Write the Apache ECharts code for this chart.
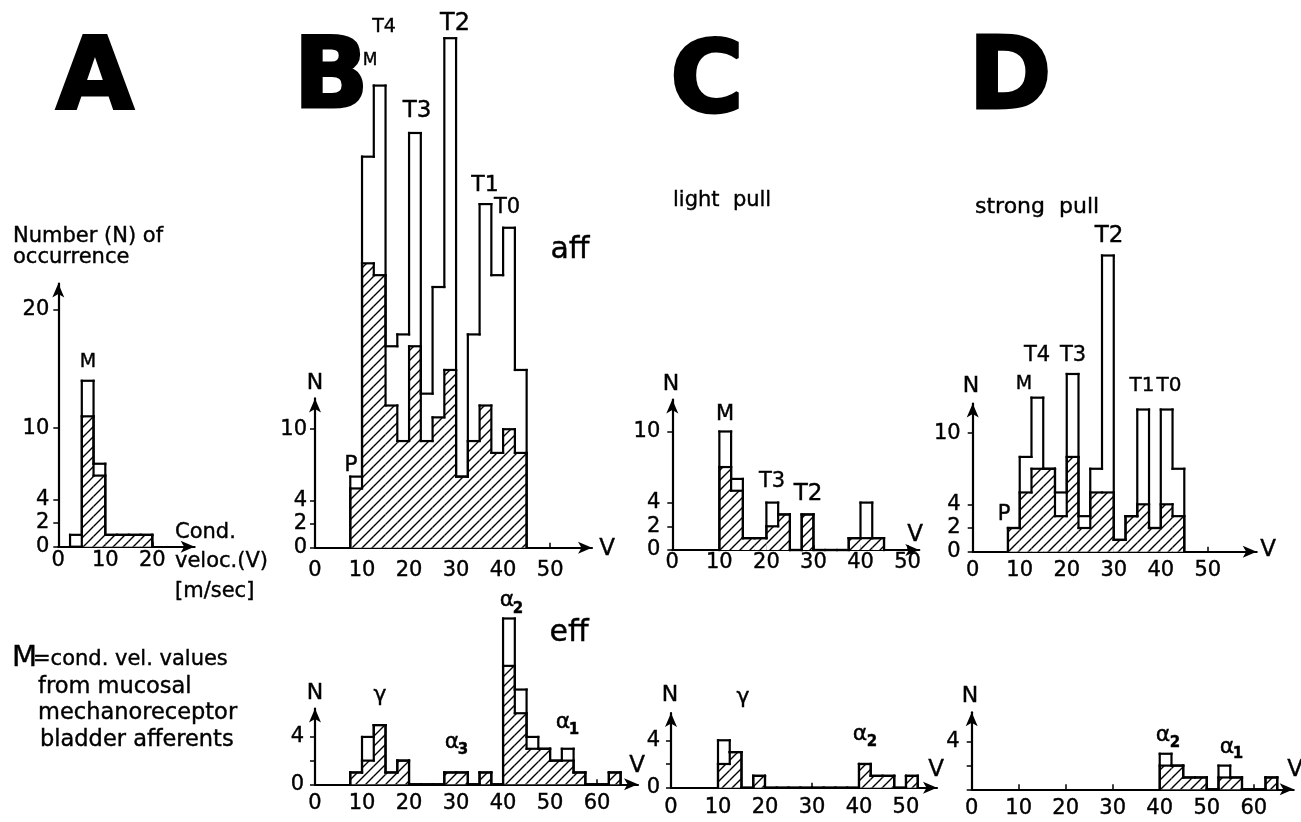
<!DOCTYPE html>
<html><head><meta charset="utf-8">
<script src="https://cdn.jsdelivr.net/npm/echarts@6/dist/echarts.min.js"></script>
<style>html,body{margin:0;padding:0;background:#fff}#c{width:1301px;height:822px}</style>
</head><body><div id="c"></div>
<script>
// ---------------- DATA (bin width 2.5 m/s, counts per bin) ----------------
const BIN = 2.5;
// Panel A (mucosal mechanoreceptor afferents)
const aStart = 2.5;
const aTotal   = [1, 14, 7, 1, 1, 1, 1];
const aHatched = [0, 11, 6, 1, 1, 1, 1];
// Panel B afferents
const bAffStart = 7.5;
const bAffTotal   = [6, 33, 39, 17, 18, 35, 13, 22, 43, 6, 18, 29, 23, 27, 15];
const bAffHatched = [5, 24, 23, 12, 9, 17, 9, 11, 15, 6, 9, 12, 8, 10, 8];
// Panel C afferents (light pull)
const cAffStart = 10;
const cAffTotal   = [10, 6, 1, 1, 4, 3, 0, 3, 0, 0, 0, 1, 4, 1];
const cAffHatched = [7, 5, 1, 1, 2, 3, 0, 3, 0, 0, 0, 1, 1, 1];
// Panel D afferents (strong pull)
const dAffStart = 7.5;
const dAffTotal   = [2, 8, 13, 7, 5, 15, 3, 7, 25, 1, 3, 12, 2, 12, 7];
const dAffHatched = [2, 5, 7, 7, 3, 8, 2, 5, 5, 1, 3, 4, 2, 4, 3];
// Panel B efferents
const bEffStart = 7.5;
const bEffTotal   = [1, 4, 5, 1, 2, 0, 0, 0, 1, 1, 0, 1, 0, 14, 8, 4, 3, 2, 3, 1, 0, 0, 1];
const bEffHatched = [1, 2, 5, 1, 2, 0, 0, 0, 1, 1, 0, 1, 0, 10, 6, 3, 3, 2, 2, 1, 0, 0, 1];
// Panel C efferents
const cEffStart = 10;
const cEffTotal   = [4, 3, 0, 1, 0, 0, 0, 0, 0, 0, 0, 0, 2, 1, 1, 0, 1];
const cEffHatched = [2, 3, 0, 1, 0, 0, 0, 0, 0, 0, 0, 0, 2, 1, 1, 0, 1];
// Panel D efferents
const dEffStart = 40;
const dEffTotal   = [3, 2, 1, 1, 0, 2, 1, 0, 0, 1];
const dEffHatched = [2, 2, 1, 1, 0, 1, 1, 0, 0, 1];

// Tick values / labels
const xTicks20 = [0, 10, 20];
const xTicks50 = [0, 10, 20, 30, 40, 50];
const xTicks60 = [0, 10, 20, 30, 40, 50, 60];
const yTicksA = [0, 2, 4, 10, 20];
const yTicksAff = [0, 2, 4, 10];
const yTicksEff = [0, 2, 4];
const yLabelsEff = [0, 4];
const yLabelsEffD = [4];

// ---------------- helpers ----------------
function binData(start, counts) {
  // [left edge, right edge, count, previous count, isLast]
  return counts.map((c, k) => [start + k * BIN, start + (k + 1) * BIN, c,
    k === 0 ? 0 : counts[k - 1], k === counts.length - 1 ? 1 : 0]);
}
function makeHatch() {
  const s = 10, cv = document.createElement('canvas');
  cv.width = s; cv.height = s;
  const g = cv.getContext('2d');
  g.strokeStyle = '#000'; g.lineWidth = 1.4;
  g.beginPath();
  g.moveTo(-2, s + 2); g.lineTo(s + 2, -2);
  g.moveTo(-2, 2); g.lineTo(2, -2);
  g.moveTo(s - 2, s + 2); g.lineTo(s + 2, s - 2);
  g.stroke();
  return cv;
}
const hatch = { image: makeHatch(), repeat: 'repeat' };
const FONT = '"DejaVu Sans"';

function histRender(fill) {
  return function (params, api) {
    const x0 = api.value(0), x1 = api.value(1), c = api.value(2), prev = api.value(3), last = api.value(4);
    const pBase0 = api.coord([x0, 0]);
    const pTop1 = api.coord([x1, c]);
    const pPrev = api.coord([x0, prev]);
    const lineStyle = { stroke: '#000', lineWidth: 2.2, fill: null, lineCap: 'square' };
    const children = [];
    if (c > 0) {
      children.push({ type: 'rect', z2: 1,
        shape: { x: pBase0[0], y: pTop1[1], width: pTop1[0] - pBase0[0], height: pBase0[1] - pTop1[1] },
        style: { fill: fill, stroke: null } });
    }
    children.push({ type: 'line', z2: 2, shape: { x1: pBase0[0], y1: pTop1[1], x2: pTop1[0], y2: pTop1[1] }, style: lineStyle });
    if (prev !== c) {
      children.push({ type: 'line', z2: 2, shape: { x1: pBase0[0], y1: pPrev[1], x2: pBase0[0], y2: pTop1[1] }, style: lineStyle });
    }
    if (last) {
      children.push({ type: 'line', z2: 2, shape: { x1: pTop1[0], y1: pTop1[1], x2: pTop1[0], y2: pBase0[1] }, style: lineStyle });
    }
    return { type: 'group', children: children };
  };
}

const panels = [
  { grid: { left: 58.3, top: 283.6, width: 136.3, height: 263.1 }, xMax: 29, yMax: 22.2,
    xTicks: xTicks20, yTicks: yTicksA, yLabels: yTicksA, xMargin: 3, yMargin: 9,
    start: aStart, total: aTotal, hatched: aHatched },
  { grid: { left: 315, top: 398.4, width: 277, height: 149.3 }, xMax: 58.9, yMax: 12.6,
    xTicks: xTicks50, yTicks: yTicksAff, yLabels: yTicksAff, xMargin: 12, yMargin: 8,
    start: bAffStart, total: bAffTotal, hatched: bAffHatched },
  { grid: { left: 672.3, top: 399.5, width: 247, height: 150.5 }, xMax: 52.5, yMax: 12.7,
    xTicks: xTicks50, yTicks: yTicksAff, yLabels: yTicksAff, xMargin: 2, yMargin: 12,
    start: cAffStart, total: cAffTotal, hatched: cAffHatched },
  { grid: { left: 972.7, top: 403.6, width: 284, height: 148.1 }, xMax: 60.4, yMax: 12.5,
    xTicks: xTicks50, yTicks: yTicksAff, yLabels: yTicksAff, xMargin: 8, yMargin: 12,
    start: dAffStart, total: dAffTotal, hatched: dAffHatched },
  { grid: { left: 315, top: 708.5, width: 323, height: 75.8 }, xMax: 68.7, yMax: 6.4,
    xTicks: xTicks60, yTicks: yTicksEff, yLabels: yLabelsEff, xMargin: 9, yMargin: 11,
    start: bEffStart, total: bEffTotal, hatched: bEffHatched },
  { grid: { left: 671, top: 713, width: 266, height: 74.7 }, xMax: 56.6, yMax: 6.3,
    xTicks: xTicks50, yTicks: yTicksEff, yLabels: yLabelsEff, xMargin: 9, yMargin: 11,
    start: cEffStart, total: cEffTotal, hatched: cEffHatched },
  { grid: { left: 971.7, top: 712.3, width: 322, height: 77 }, xMax: 68.5, yMax: 6.5,
    xTicks: xTicks60, yTicks: yTicksEff, yLabels: yLabelsEffD, xMargin: 9, yMargin: 12,
    start: dEffStart, total: dEffTotal, hatched: dEffHatched }
];

const labelStyle = { fontSize: 21, color: '#000', fontFamily: FONT, textBorderColor: '#000', textBorderWidth: 0.4 };
const grid = [], xAxis = [], yAxis = [], series = [];
panels.forEach((p, i) => {
  grid.push(Object.assign({ containLabel: false }, p.grid));
  const lineCommon = { onZero: false, symbol: ['none', 'arrow'], symbolSize: [9, 14],
    lineStyle: { color: '#000', width: 2.2 } };
  xAxis.push({ gridIndex: i, type: 'value', min: 0, max: p.xMax,
    axisLine: lineCommon,
    axisTick: { show: true, inside: true, length: 5, customValues: p.xTicks, lineStyle: { color: '#000', width: 1.5 } },
    axisLabel: Object.assign({ customValues: p.xTicks, margin: p.xMargin }, labelStyle),
    splitLine: { show: false } });
  yAxis.push({ gridIndex: i, type: 'value', min: 0, max: p.yMax,
    axisLine: lineCommon,
    axisTick: { show: true, inside: false, length: 5, customValues: p.yTicks, lineStyle: { color: '#000', width: 1.5 } },
    axisLabel: Object.assign({ customValues: p.yLabels, margin: p.yMargin }, labelStyle),
    splitLine: { show: false } });
  series.push({ type: 'custom', coordinateSystem: 'cartesian2d', xAxisIndex: i, yAxisIndex: i,
    clip: false, z: 3, data: binData(p.start, p.total), renderItem: histRender('#fff') });
  series.push({ type: 'custom', coordinateSystem: 'cartesian2d', xAxisIndex: i, yAxisIndex: i,
    clip: false, z: 4, data: binData(p.start, p.hatched), renderItem: histRender(hatch) });
});

function t(x, y, text, size, opt) {
  opt = opt || {};
  const sw = opt.stroke !== undefined ? opt.stroke : 0.4;
  return { type: 'text', z: 10, x: x, y: y,
    style: { text: text, fill: '#000', font: (opt.bold ? 'bold ' : '') + size + 'px ' + FONT,
      textAlign: opt.align || 'center', textVerticalAlign: 'middle',
      stroke: sw ? '#000' : null, lineWidth: sw } };
}
const big = { bold: true, stroke: 3 };
const graphic = [
  t(95, 82, 'A', 100, big), t(331, 82, 'B', 98, big), t(707, 86, 'C', 100, big), t(1010, 82, 'D', 100, big),
  // Panel A
  t(13, 237, 'Number (N) of', 21, { align: 'left' }),
  t(13, 258, 'occurrence', 21, { align: 'left' }),
  t(88, 362, 'M', 19),
  t(175, 533, 'Cond.', 21, { align: 'left' }),
  t(175, 562, 'veloc.(V)', 21, { align: 'left' }),
  t(175, 592, '[m/sec]', 21, { align: 'left' }),
  t(12, 658, 'M', 29, { align: 'left' }),
  t(33, 660, '=cond. vel. values', 21, { align: 'left' }),
  t(38, 687, 'from mucosal', 22.5, { align: 'left' }),
  t(38, 713, 'mechanoreceptor', 22.5, { align: 'left' }),
  t(40, 740, 'bladder afferents', 22.5, { align: 'left' }),
  // Panel B aff
  t(384, 27, 'T4', 19), t(370, 61, 'M', 17), t(417, 111, 'T3', 23), t(455, 24, 'T2', 24),
  t(485, 185, 'T1', 22), t(507, 208, 'T0', 21), t(570, 250, 'aff', 30),
  t(315, 383, 'N', 22), t(351, 465, 'P', 22), t(607, 549, 'V', 23),
  // Panel C aff
  t(673, 201, 'light  pull', 21, { align: 'left' }),
  t(671, 384, 'N', 22), t(725, 415, 'M', 21), t(772, 482, 'T3', 21), t(808, 494, 'T2', 23), t(915, 535, 'V', 23),
  // Panel D aff
  t(975, 207, 'strong  pull', 22, { align: 'left' }),
  t(1109, 236, 'T2', 23), t(1037, 356, 'T4', 21), t(1073, 356, 'T3', 21), t(1024, 384, 'M', 19),
  t(971, 386, 'N', 22), t(1142, 386, 'T1', 20), t(1169, 386, 'T0', 20), t(1004, 515, 'P', 21), t(1268, 550, 'V', 23),
  // Panel B eff
  t(569, 633, 'eff', 30),
  t(507, 600, 'α', 22), t(518, 609, '2', 15, { bold: true }),
  t(315, 693, 'N', 22), t(380, 695, 'γ', 22),
  t(452, 742, 'α', 22), t(463, 750, '3', 15, { bold: true }),
  t(563, 722, 'α', 22), t(574, 730, '1', 15, { bold: true }),
  t(637, 766, 'V', 23),
  // Panel C eff
  t(670, 695, 'N', 22), t(743, 697, 'γ', 22),
  t(860, 734, 'α', 22), t(872, 742, '2', 15, { bold: true }),
  t(936, 770, 'V', 23),
  // Panel D eff
  t(970, 696, 'N', 22),
  t(1163, 735, 'α', 22), t(1175, 743, '2', 15, { bold: true }),
  t(1227, 747, 'α', 22), t(1238, 754, '1', 15, { bold: true }),
  t(1295, 770, 'V', 23)
];

const chart = echarts.init(document.getElementById('c'), null, { renderer: 'canvas' });
chart.setOption({ backgroundColor: '#fff', animation: false, grid, xAxis, yAxis, series, graphic });
</script></body></html>
